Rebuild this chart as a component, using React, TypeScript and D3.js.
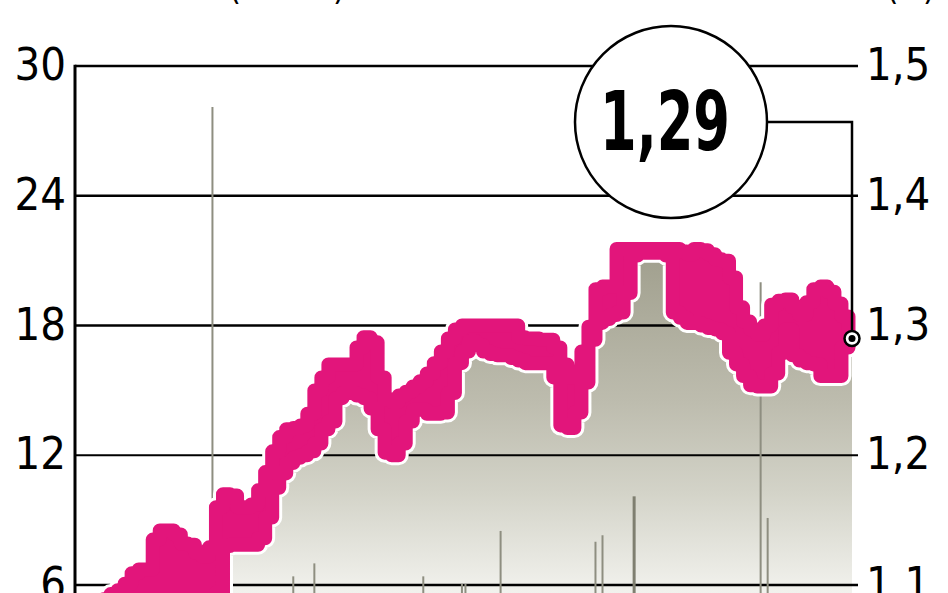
import React from 'react';
import * as d3 from 'd3';

// ---- data ----
const leftTicks = [30, 24, 18, 12, 6];
const rightTicks = [1.5, 1.4, 1.3, 1.2, 1.1];
const rightTickLabels = ['1,5', '1,4', '1,3', '1,2', '1,1'];

// share price range (right axis), one value every second trading day
const priceHigh = [
  1.085, 1.089, 1.093, 1.096, 1.101, 1.109, 1.112, 1.112, 1.135, 1.142,
  1.142, 1.139, 1.132, 1.131, 1.125, 1.122, 1.129, 1.160, 1.170, 1.169,
  1.160, 1.160, 1.162, 1.173, 1.187, 1.203, 1.214, 1.220, 1.221, 1.223,
  1.232, 1.250, 1.260, 1.270, 1.270, 1.270, 1.270, 1.283, 1.291, 1.287,
  1.260, 1.243, 1.241, 1.246, 1.249, 1.253, 1.257, 1.263, 1.271, 1.280,
  1.290, 1.297, 1.300, 1.300, 1.300, 1.300, 1.300, 1.300, 1.300, 1.300,
  1.291, 1.290, 1.290, 1.289, 1.289, 1.283, 1.270, 1.260, 1.264, 1.280,
  1.299, 1.328, 1.330, 1.330, 1.359, 1.359, 1.359, 1.359, 1.359, 1.359,
  1.359, 1.359, 1.359, 1.357, 1.355, 1.359, 1.358, 1.355, 1.351, 1.350,
  1.337, 1.314, 1.303, 1.297, 1.293, 1.300, 1.316, 1.319, 1.320, 1.314,
  1.308, 1.318, 1.328, 1.330, 1.326, 1.317, 1.307, 1.290,
];
const priceLow = [
  1.078, 1.082, 1.086, 1.090, 1.090, 1.090, 1.090, 1.090, 1.090, 1.090,
  1.090, 1.090, 1.090, 1.090, 1.090, 1.090, 1.090, 1.094, 1.130, 1.131,
  1.131, 1.131, 1.131, 1.136, 1.152, 1.175, 1.186, 1.194, 1.198, 1.200,
  1.203, 1.209, 1.220, 1.226, 1.244, 1.248, 1.248, 1.246, 1.244, 1.236,
  1.220, 1.202, 1.200, 1.209, 1.226, 1.235, 1.235, 1.232, 1.232, 1.233,
  1.248, 1.271, 1.280, 1.288, 1.285, 1.280, 1.278, 1.277, 1.277, 1.275,
  1.273, 1.271, 1.271, 1.271, 1.271, 1.260, 1.223, 1.221, 1.233, 1.256,
  1.289, 1.302, 1.305, 1.308, 1.310, 1.325, 1.354, 1.356, 1.356, 1.356,
  1.356, 1.354, 1.310, 1.306, 1.302, 1.302, 1.300, 1.298, 1.297, 1.294,
  1.279, 1.270, 1.261, 1.254, 1.253, 1.253, 1.263, 1.279, 1.297, 1.277,
  1.273, 1.271, 1.270, 1.261, 1.261, 1.261, 1.283, 1.290,
];
const lastClose = 1.29;

// trading volume (left axis) on the days with visible bars
const volumeDays = [32, 55, 61, 92, 103, 104, 114, 141, 143, 152, 188, 190];
const volumeValues = [28.1, 6.4, 7.0, 6.4, 6.05, 6.05, 8.5, 8.0, 8.3, 10.1, 20.0, 9.1];

const lastPriceLabel = '1,29';
const titleLeft = 'Wartość obrotu (mln zł)';
const titleRight = 'Kurs (zł)';

const W = 948;
const H = 593;
const FONT = "'DejaVu Sans Condensed', 'DejaVu Sans', sans-serif";

type Pt = { day: number; hi: number; lo: number };

export default function App() {
  const nDays = (priceHigh.length - 1) * 2;
  const x = d3.scaleLinear().domain([0, nDays]).range([100, 852]);
  const yL = d3.scaleLinear().domain([6, 30]).range([585, 66]);
  const yR = d3.scaleLinear().domain([1.1, 1.5]).range([585, 66]);

  const pts: Pt[] = priceHigh.map((hi, i) => ({ day: i * 2, hi, lo: priceLow[i] }));
  const band = d3
    .area<Pt>()
    .curve(d3.curveStep)
    .x((d) => x(d.day))
    .y0((d) => yR(d.lo))
    .y1((d) => yR(d.hi));
  const under = d3
    .area<Pt>()
    .curve(d3.curveStep)
    .x((d) => x(d.day))
    .y0(yR(1.0))
    .y1((d) => yR(d.lo));

  const axisX = 75;
  const gridEnd = 858;
  const mx = x(nDays);
  const my = yR(lastClose);
  const cx = 671;
  const cy = 122;
  const r = 96;
  const bandD = band(pts) || '';

  return (
    <div style={{ position: 'absolute', left: 0, top: 0 }}>
      <svg width={W} height={H} style={{ display: 'block', background: '#fff' }}>
        <defs>
          <linearGradient id="areaGrad" gradientUnits="userSpaceOnUse" x1="0" y1="240" x2="0" y2="600">
            <stop offset="0" stopColor="#9e9d8b" />
            <stop offset="0.45" stopColor="#bdbcae" />
            <stop offset="0.7" stopColor="#d3d3c8" />
            <stop offset="1" stopColor="#f4f4f0" />
          </linearGradient>
        </defs>

        {/* cut-off titles */}
        <text x={345} y={0} fontFamily={FONT} fontSize={34} textAnchor="end" fill="#000">
          {titleLeft}
        </text>
        <text x={935} y={0} fontFamily={FONT} fontSize={34} textAnchor="end" fill="#000">
          {titleRight}
        </text>

        {/* area under price */}
        <path d={under(pts) || ''} fill="url(#areaGrad)" />

        {/* gridlines */}
        {leftTicks.map((t) => (
          <line
            key={t}
            x1={axisX}
            x2={gridEnd}
            y1={yL(t)}
            y2={yL(t)}
            stroke="#000"
            strokeWidth={t === 12 ? 1.8 : 2.6}
          />
        ))}

        {/* volume bars */}
        {volumeDays.map((d, i) => (
          <line
            key={d}
            x1={x(d)}
            x2={x(d)}
            y1={yL(volumeValues[i])}
            y2={yL(0)}
            stroke={volumeValues[i] > 9.5 && volumeValues[i] < 11 ? '#7f7f70' : '#8e8e80'}
            strokeWidth={volumeValues[i] > 9.5 && volumeValues[i] < 11 ? 3 : 2}
          />
        ))}

        {/* left axis */}
        <line x1={axisX} x2={axisX} y1={yL(30) - 1.3} y2={H + 2} stroke="#000" strokeWidth={3} />

        {/* price band with white halo */}
        <path d={bandD} fill="#fff" stroke="#fff" strokeWidth={20} strokeLinejoin="round" />
        <path d={bandD} fill="#e2157b" stroke="#e2157b" strokeWidth={14} strokeLinejoin="round" />

        {/* callout */}
        <path
          d={`M${cx + r},${cy} H${mx} V${my - 7}`}
          fill="none"
          stroke="#000"
          strokeWidth={2.5}
        />
        <circle cx={cx} cy={cy} r={r} fill="#fff" stroke="#000" strokeWidth={2.5} />
        <text
          x={cx - 6}
          y={150}
          fontFamily="'Liberation Sans Narrow', 'DejaVu Sans Condensed', 'DejaVu Sans', sans-serif"
          fontWeight="bold"
          fontSize={82}
          textAnchor="middle"
          textLength={130}
          lengthAdjust="spacingAndGlyphs"
          fill="#000"
        >
          {lastPriceLabel}
        </text>
        <circle cx={mx} cy={my} r={7.5} fill="#fff" stroke="#000" strokeWidth={2.5} />
        <circle cx={mx} cy={my} r={3.5} fill="#000" />

        {/* left labels */}
        {leftTicks.map((t) => (
          <text
            key={t}
            x={66}
            y={yL(t) + 14}
            fontFamily={FONT}
            fontStretch="condensed"
            fontSize={45}
            textAnchor="end"
            fill="#000"
          >
            {t}
          </text>
        ))}

        {/* right labels */}
        {rightTicks.map((t, i) => (
          <text
            key={t}
            x={866}
            y={yR(t) + 14}
            fontFamily={FONT}
            fontStretch="condensed"
            fontSize={45}
            textAnchor="start"
            fill="#000"
          >
            {rightTickLabels[i]}
          </text>
        ))}
      </svg>
    </div>
  );
}
